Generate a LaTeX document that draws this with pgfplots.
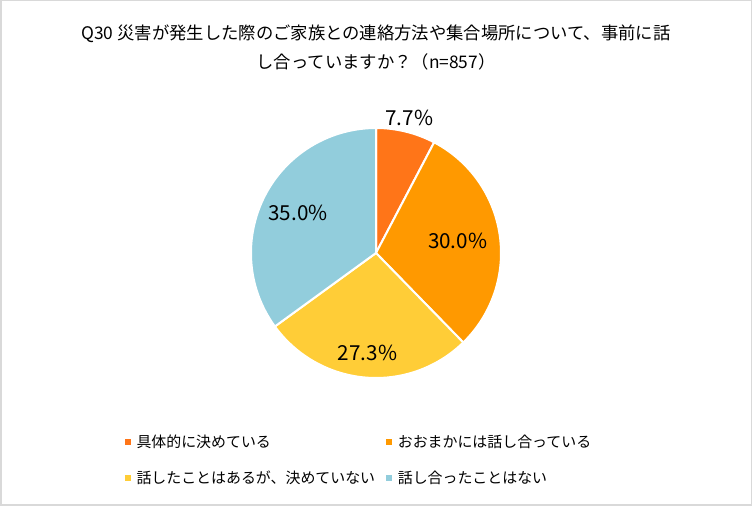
\documentclass[border=0pt]{standalone}
\usepackage{pgfplots}
\pgfplotsset{compat=1.18}
\usepackage{fontspec}
\setmainfont{Noto Sans CJK JP}
\usetikzlibrary{calc}

\definecolor{cA}{RGB}{255,117,24}
\definecolor{cB}{RGB}{255,153,0}
\definecolor{cC}{RGB}{255,205,55}
\definecolor{cD}{RGB}{146,205,220}
\definecolor{frame}{RGB}{217,217,217}

% 1 px of the reference = 0.75pt
\newcommand{\px}{0.75pt}
\newcommand{\R}{93.75pt} % pie radius, 125 px
\newcommand{\legsq}[1]{\fill[#1,draw=none] (0pt,-2.5pt) rectangle (5pt,2.5pt); \path[draw=none,fill=none] (0pt,0pt) rectangle (7pt,0pt);}

\begin{document}
\begin{tikzpicture}
	% outer frame
	\draw[frame, line width=1.5*\px] (0.75*\px,0.75*\px) rectangle (751.25*\px,505.25*\px);
	% title
	\node[align=center, font=\fontsize{13}{21.75}\selectfont] at (376*\px,{(506-47.5)*\px})
		{Q30 災害が発生した際のご家族との連絡方法や集合場所について、事前に話\\し合っていますか？（n=857）};
	\begin{axis}[
		at={(376*\px,{(506-253)*\px})}, anchor=center,
		scale only axis, width=250*\px, height=250*\px,
		xmin=-1, xmax=1, ymin=-1, ymax=1,
		hide axis, clip=false,
		/pgf/number format/assume math mode=true,
		legend columns=2,
		legend cell align=left,
		legend style={
			at={(-0.507,-0.215)}, anchor=north west,
			draw=none, fill=none, inner sep=0pt,
			font=\fontsize{11.2}{13}\selectfont,
			row sep=12pt,
			/tikz/every even column/.append style={column sep=6pt},
		},
	]
		% share of each answer, clockwise from the top
		\pgfplotsextra{
			\gdef\startang{90}
			\foreach \v/\col/\lr in {7.7/cA/1.11, 30.0/cB/0.66, 27.3/cC/0.80, 35.0/cD/0.70}{
				\pgfmathsetmacro\endang{\startang-3.6*\v}
				\pgfmathsetmacro\midang{(\startang+\endang)/2}
				\fill[\col, draw=white, line width=1.5pt, line join=round]
					(axis cs:0,0) -- ++(\startang:\R)
					arc[start angle=\startang, end angle=\endang, radius=\R] -- cycle;
				\node[font=\fontsize{15.5}{17}\selectfont]
					at ($(axis cs:0,0)+(\midang:\lr*\R)$)
					{\pgfmathprintnumber[fixed,fixed zerofill,precision=1,assume math mode=true]{\v}\%};
				\xdef\startang{\endang}
			}
		}
		\addlegendimage{legend image code/.code={\legsq{cA}}}
		\addlegendentry{具体的に決めている}
		\addlegendimage{legend image code/.code={\legsq{cB}}}
		\addlegendentry{おおまかには話し合っている}
		\addlegendimage{legend image code/.code={\legsq{cC}}}
		\addlegendentry{話したことはあるが、決めていない}
		\addlegendimage{legend image code/.code={\legsq{cD}}}
		\addlegendentry{話し合ったことはない}
	\end{axis}
\end{tikzpicture}
\end{document}
